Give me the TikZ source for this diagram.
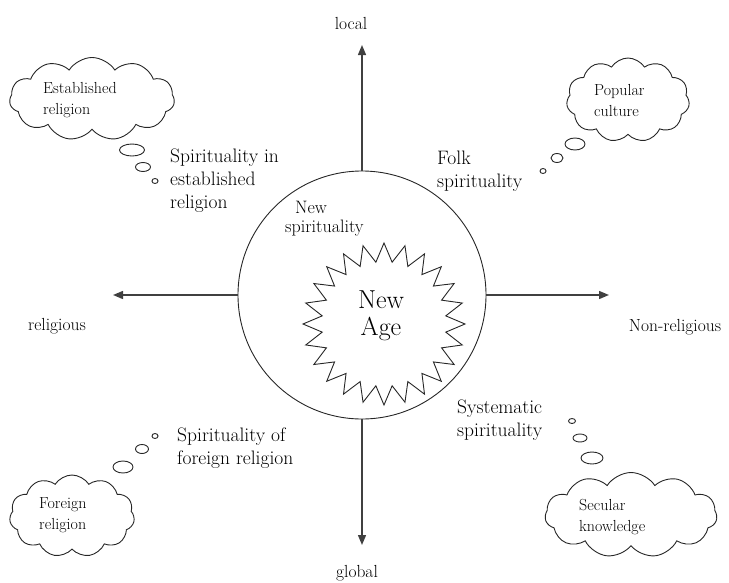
\documentclass[tikz,border=0pt]{standalone}
\usetikzlibrary{shapes.symbols,shapes.geometric,arrows.meta}
\begin{document}
\begin{tikzpicture}[x=1pt,y=-1pt,
  ink/.style={draw=black!85, line width=0.9pt},
  axis/.style={draw=black!75, line width=1.4pt, -{Triangle[length=10pt,width=8pt]}},
  thought/.style={ink, shape=cloud, cloud puffs=11, cloud puff arc=115, cloud ignores aspect, inner sep=0pt},
  bubble/.style={ink, ellipse, inner sep=0pt},
  cloudtext/.style={font=\fontsize{16}{21}\selectfont, align=left, anchor=west, inner sep=0pt},
  lbl/.style={font=\fontsize{19.5}{23}\selectfont, align=left, anchor=west, inner sep=0pt},
  axislbl/.style={font=\fontsize{17.5}{21}\selectfont, inner sep=0pt},
]
\useasboundingbox (0,0) rectangle (729,582);

% central ring and the New Age star
\node[ink, circle, minimum size=248pt, inner sep=0pt] (ring) at (362,295) {};
\node[ink, star, star points=24, star point ratio=1.3, minimum size=162pt, inner sep=0pt] (star) at (384,324) {};
\node[font=\fontsize{26}{27}\selectfont, align=center, inner sep=0pt] (newage) at (381,316) {New\\Age};
\node[font=\fontsize{18}{21}\selectfont, anchor=west, inner sep=0pt] (ns1) at (295,207) {New};
\node[font=\fontsize{18}{21}\selectfont, anchor=west, inner sep=0pt] (ns2) at (285,228) {spirituality};

% axes
\coordinate (top) at (362,45);
\coordinate (bot) at (362,545);
\coordinate (lft) at (113,295);
\coordinate (rgt) at (609,295);
\draw[axis] (ring.north) -- (top);
\draw[axis] (ring.south) -- (bot);
\draw[axis] (ring.west) -- (lft);
\draw[axis] (ring.east) -- (rgt);
\node[axislbl] (local) at (351,23) {local};
\node[axislbl] (global) at (357,573) {global};
\node[axislbl] (relig) at (57,326) {religious};
\node[axislbl] (nonrelig) at (675,327) {Non-religious};

% upper left: established religion
\node[thought, minimum width=165pt, minimum height=83pt] (c1) at (92,99) {};
\node[cloudtext] (t1) at (43,100) {Established\\religion};
\node[bubble, minimum width=25pt, minimum height=12pt] (b1a) at (132,150) {};
\node[bubble, minimum width=15pt, minimum height=9pt] (b1b) at (143,167) {};
\node[bubble, minimum width=6pt, minimum height=5pt] (b1c) at (155,181) {};
\node[lbl] (l1) at (170,181) {Spirituality in\\established\\religion};

% upper right: popular culture
\node[thought, minimum width=123pt, minimum height=84pt] (c2) at (628,100) {};
\node[cloudtext] (t2) at (594,101) {Popular\\culture};
\node[bubble, minimum width=20pt, minimum height=12pt] (b2a) at (575,144) {};
\node[bubble, minimum width=12pt, minimum height=9pt] (b2b) at (557,158) {};
\node[bubble, minimum width=6pt, minimum height=5pt] (b2c) at (543,171) {};
\node[lbl] (l2) at (437,171) {Folk\\spirituality};

% lower left: foreign religion
\node[thought, minimum width=125pt, minimum height=82pt] (c3) at (72,516) {};
\node[cloudtext] (t3) at (39,515) {Foreign\\religion};
\node[bubble, minimum width=20pt, minimum height=12pt] (b3a) at (123,467) {};
\node[bubble, minimum width=13pt, minimum height=9pt] (b3b) at (142,449) {};
\node[bubble, minimum width=6pt, minimum height=5pt] (b3c) at (155,436) {};
\node[lbl] (l3) at (177,448) {Spirituality of\\foreign religion};

% lower right: secular knowledge
\node[thought, minimum width=172pt, minimum height=85pt] (c4) at (631,515) {};
\node[cloudtext] (t4) at (579,517) {Secular\\knowledge};
\node[bubble, minimum width=22pt, minimum height=12pt] (b4a) at (592,458) {};
\node[bubble, minimum width=14pt, minimum height=8pt] (b4b) at (580,438) {};
\node[bubble, minimum width=7pt, minimum height=5pt] (b4c) at (572,421) {};
\node[lbl] (l4) at (457,420) {Systematic\\spirituality};
\end{tikzpicture}
\end{document}
